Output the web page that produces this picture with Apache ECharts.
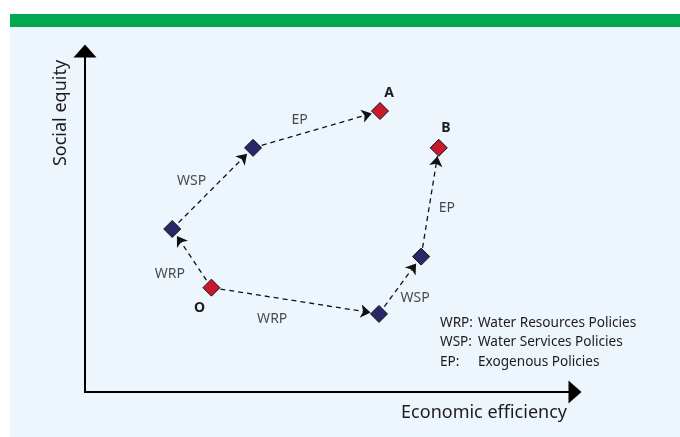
<!DOCTYPE html>
<html>
<head>
<meta charset="utf-8">
<script src="https://cdn.jsdelivr.net/npm/echarts@6/dist/echarts.min.js"></script>
<style>
html,body{margin:0;padding:0;background:#fff;}
#chart{width:680px;height:437px;}
</style>
</head>
<body>
<div id="chart"></div>
<script>
// ---- data (conceptual 0-100 scales) ----
const nodeNames = ['O', 'WRP1', 'WSP1', 'A', 'WRP2', 'WSP2', 'B'];
const nodeX = [25.8, 17.8, 34.3, 60.2, 60.0, 68.6, 72.2];
const nodeY = [30.6, 47.8, 71.6, 82.4, 22.9, 39.7, 71.6];
const nodeKind = ['state', 'policy', 'policy', 'state', 'policy', 'policy', 'state'];
const nodeLabels = ['O', '', '', 'A', '', '', 'B'];
const linkSource = ['O', 'WRP1', 'WSP1', 'O', 'WRP2', 'WSP2'];
const linkTarget = ['WRP1', 'WSP1', 'A', 'WRP2', 'WSP2', 'B'];
const linkNames = ['WRP', 'WSP', 'EP', 'WRP', 'WSP', 'EP'];
const legendAbbr = ['WRP:', 'WSP:', 'EP:'];
const legendText = ['Water Resources Policies', 'Water Services Policies', 'Exogenous Policies'];
const xAxisName = 'Economic efficiency';
const yAxisName = 'Social equity';

// ---- styling ----
const FONT = 'Noto Sans';
const TEXT = '#1e1b1c';
const kindColor = { state: '#c8192e', policy: '#2b2868' };
const nodeLabelOffset = { O: [-12, 20], A: [9, -18], B: [7, -20] };
const linkLabelOffset = [[-22, 16], [-21, -7], [-17, -9], [-23, 18], [15, 13], [17, 6]];

const chart = echarts.init(document.getElementById('chart'), null, { renderer: 'canvas' });

const idx = {};
nodeNames.forEach((n, i) => { idx[n] = i; });

const nodes = nodeNames.map((n, i) => ({
  name: n,
  value: [nodeX[i], nodeY[i]],
  itemStyle: { color: kindColor[nodeKind[i]] },
  label: nodeLabels[i] ? {
    show: true,
    formatter: nodeLabels[i],
    position: 'inside',
    offset: nodeLabelOffset[n],
    color: TEXT,
    fontWeight: 'bold',
    fontSize: 14,
    fontFamily: FONT
  } : { show: false }
}));

const links = linkSource.map((s, i) => ({ source: s, target: linkTarget[i] }));

const linkLabelData = linkSource.map((s, i) => {
  const a = idx[s], b = idx[linkTarget[i]];
  return {
    value: [(nodeX[a] + nodeX[b]) / 2, (nodeY[a] + nodeY[b]) / 2],
    name: linkNames[i],
    label: { offset: linkLabelOffset[i] }
  };
});

const graphics = [
  { type: 'rect', shape: { x: 10, y: 27, width: 670, height: 410 }, style: { fill: '#eef6fd' }, z: -10, silent: true },
  { type: 'rect', shape: { x: 10, y: 14, width: 670, height: 13 }, style: { fill: '#00a84f' }, z: -10, silent: true },
  { type: 'text', x: 61, y: 113, rotation: Math.PI / 2,
    style: { text: yAxisName, fill: TEXT, font: '18px "' + FONT + '"', align: 'center', verticalAlign: 'middle' }, z: 10 },
  { type: 'text', x: 567, y: 413,
    style: { text: xAxisName, fill: TEXT, font: '18px "' + FONT + '"', align: 'right', verticalAlign: 'middle' }, z: 10 }
];
legendAbbr.forEach((a, i) => {
  graphics.push({ type: 'text', x: 440, y: 323 + i * 19.5,
    style: { text: a, fill: TEXT, font: '13.6px "' + FONT + '"', align: 'left', verticalAlign: 'middle' }, z: 10 });
  graphics.push({ type: 'text', x: 478, y: 323 + i * 19.5,
    style: { text: legendText[i], fill: TEXT, font: '13.6px "' + FONT + '"', align: 'left', verticalAlign: 'middle' }, z: 10 });
});

const axisCommon = {
  type: 'value', min: 0, max: 100,
  axisTick: { show: false }, axisLabel: { show: false }, splitLine: { show: false },
  axisLine: { show: true, onZero: false, symbol: ['none', 'triangle'], symbolSize: [23, 13],
    lineStyle: { color: '#000', width: 2 } }
};

chart.setOption({
  backgroundColor: '#ffffff',
  animation: false,
  grid: { left: 85, top: 51, width: 490, height: 341, containLabel: false },
  xAxis: Object.assign({}, axisCommon),
  yAxis: Object.assign({}, axisCommon),
  graphic: graphics,
  series: [
    {
      type: 'graph',
      coordinateSystem: 'cartesian2d',
      symbol: 'diamond',
      symbolSize: 17,
      data: nodes,
      links: links,
      edgeSymbol: ['none', 'arrow'],
      edgeSymbolSize: [0, 10],
      itemStyle: { borderColor: '#111', borderWidth: 1 },
      lineStyle: { color: '#111', width: 1.3, type: [5, 4], opacity: 1, curveness: 0 },
      silent: true,
      z: 3
    },
    {
      type: 'scatter',
      symbolSize: 1,
      itemStyle: { color: 'transparent' },
      data: linkLabelData,
      label: {
        show: true, position: 'inside', formatter: p => p.name,
        color: TEXT, fontSize: 14, fontFamily: FONT
      },
      silent: true,
      z: 4
    }
  ]
});
</script>
</body>
</html>
